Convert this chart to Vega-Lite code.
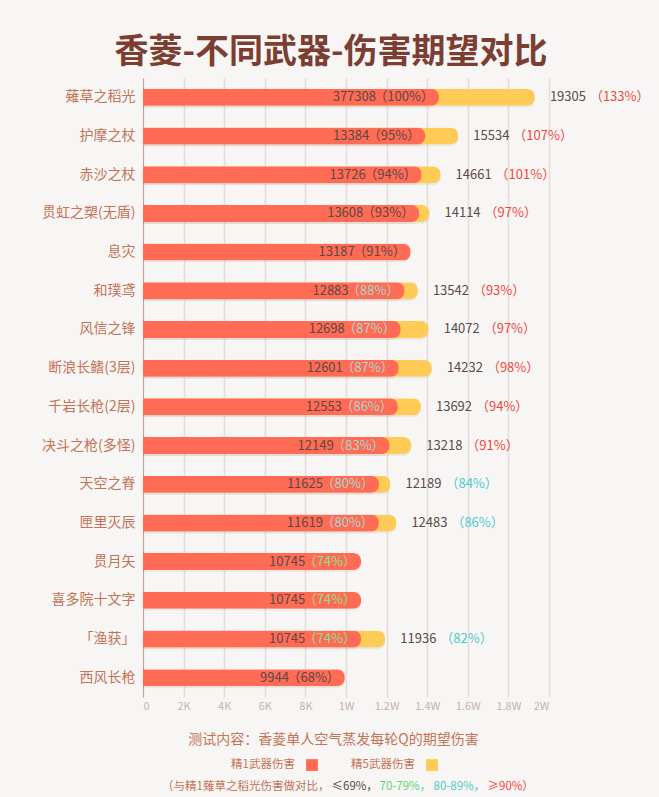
{
  "$schema": "https://vega.github.io/schema/vega-lite/v6.json",
  "autosize": "none",
  "width": 406,
  "height": 619,
  "padding": {"left": 143, "top": 78, "right": 110, "bottom": 100},
  "background": "#f8f6f4",
  "title": {
    "text": "香菱-不同武器-伤害期望对比",
    "font": "Noto Sans CJK SC",
    "fontSize": 34,
    "fontWeight": "bold",
    "color": "#7b3e33",
    "anchor": "middle",
    "frame": "group",
    "baseline": "bottom",
    "offset": -26,
    "dx": -15
  },
  "config": {
    "font": "Noto Sans CJK SC",
    "view": {"stroke": null}
  },
  "data": {
    "values": [
      {"w": "薙草之稻光", "r1": 14580, "n1": "377308", "p1": "（100%）", "c1": "≥90%", "r5": 19305, "n5": "19305", "p5": "（133%）", "c5": "≥90%"},
      {"w": "护摩之杖", "r1": 13900, "n1": "13384", "p1": "（95%）", "c1": "≥90%", "r5": 15534, "n5": "15534", "p5": "（107%）", "c5": "≥90%"},
      {"w": "赤沙之杖", "r1": 13726, "n1": "13726", "p1": "（94%）", "c1": "≥90%", "r5": 14661, "n5": "14661", "p5": "（101%）", "c5": "≥90%"},
      {"w": "贯虹之槊(无盾)", "r1": 13608, "n1": "13608", "p1": "（93%）", "c1": "≥90%", "r5": 14114, "n5": "14114", "p5": "（97%）", "c5": "≥90%"},
      {"w": "息灾", "r1": 13187, "n1": "13187", "p1": "（91%）", "c1": "≥90%", "r5": null, "n5": null, "p5": null, "c5": null},
      {"w": "和璞鸢", "r1": 12883, "n1": "12883", "p1": "（88%）", "c1": "80-89%", "r5": 13542, "n5": "13542", "p5": "（93%）", "c5": "≥90%"},
      {"w": "风信之锋", "r1": 12698, "n1": "12698", "p1": "（87%）", "c1": "80-89%", "r5": 14072, "n5": "14072", "p5": "（97%）", "c5": "≥90%"},
      {"w": "断浪长鳍(3层)", "r1": 12601, "n1": "12601", "p1": "（87%）", "c1": "80-89%", "r5": 14232, "n5": "14232", "p5": "（98%）", "c5": "≥90%"},
      {"w": "千岩长枪(2层)", "r1": 12553, "n1": "12553", "p1": "（86%）", "c1": "80-89%", "r5": 13692, "n5": "13692", "p5": "（94%）", "c5": "≥90%"},
      {"w": "决斗之枪(多怪)", "r1": 12149, "n1": "12149", "p1": "（83%）", "c1": "80-89%", "r5": 13218, "n5": "13218", "p5": "（91%）", "c5": "≥90%"},
      {"w": "天空之脊", "r1": 11625, "n1": "11625", "p1": "（80%）", "c1": "80-89%", "r5": 12189, "n5": "12189", "p5": "（84%）", "c5": "80-89%"},
      {"w": "匣里灭辰", "r1": 11619, "n1": "11619", "p1": "（80%）", "c1": "80-89%", "r5": 12483, "n5": "12483", "p5": "（86%）", "c5": "80-89%"},
      {"w": "贯月矢", "r1": 10745, "n1": "10745", "p1": "（74%）", "c1": "70-79%", "r5": null, "n5": null, "p5": null, "c5": null},
      {"w": "喜多院十文字", "r1": 10745, "n1": "10745", "p1": "（74%）", "c1": "70-79%", "r5": null, "n5": null, "p5": null, "c5": null},
      {"w": "「渔获」", "r1": 10745, "n1": "10745", "p1": "（74%）", "c1": "70-79%", "r5": 11936, "n5": "11936", "p5": "（82%）", "c5": "80-89%"},
      {"w": "西风长枪", "r1": 9944, "n1": "9944", "p1": "（68%）", "c1": "≤69%", "r5": null, "n5": null, "p5": null, "c5": null}
    ]
  },
  "encoding": {
    "y": {
      "field": "w",
      "type": "nominal",
      "sort": null,
      "scale": {
        "domain": ["薙草之稻光", "护摩之杖", "赤沙之杖", "贯虹之槊(无盾)", "息灾", "和璞鸢", "风信之锋", "断浪长鳍(3层)", "千岩长枪(2层)", "决斗之枪(多怪)", "天空之脊", "匣里灭辰", "贯月矢", "喜多院十文字", "「渔获」", "西风长枪"],
        "paddingInner": 0.56,
        "paddingOuter": 0.28
      },
      "axis": {
        "title": null,
        "ticks": false,
        "labelFontSize": 14,
        "labelColor": "#c27358",
        "labelPadding": 8,
        "domainColor": "#c0a49c",
        "domainWidth": 1
      }
    }
  },
  "layer": [
    {
      "mark": {"type": "bar", "cornerRadiusEnd": 8, "color": "#a08078", "opacity": 0.12, "yOffset": 2},
      "encoding": {
        "x": {
          "field": "r5",
          "type": "quantitative",
          "scale": {"domain": [0, 20000], "nice": false},
          "axis": {
            "values": [0, 2000, 4000, 6000, 8000, 10000, 12000, 14000, 16000, 18000, 20000],
            "labelExpr": "datum.value == 0 ? '0' : datum.value < 10000 ? (datum.value / 1000) + 'K' : (datum.value / 10000) + 'W'",
            "labelColor": "#c4b4b0",
            "labelFontSize": 11,
            "labelPadding": 3,
            "ticks": false,
            "domain": false,
            "gridColor": "#e6dcd9",
            "gridWidth": 1.5,
            "title": "测试内容：香菱单人空气蒸发每轮Q的期望伤害",
            "titleFontSize": 14,
            "titleFontWeight": "normal",
            "titleColor": "#c27358",
            "titlePadding": 21,
            "titleX": 190
          }
        }
      }
    },
    {
      "mark": {"type": "bar", "cornerRadiusEnd": 8, "color": "#a08078", "opacity": 0.12, "yOffset": 2},
      "encoding": {"x": {"field": "r1", "type": "quantitative"}}
    },
    {
      "mark": {"type": "bar", "cornerRadiusEnd": 8},
      "encoding": {
        "x": {"field": "r5", "type": "quantitative"},
        "fill": {
          "datum": "精5武器伤害",
          "scale": {"domain": ["精1武器伤害", "精5武器伤害"], "range": ["#ff6b55", "#ffcb57"]},
          "legend": {
            "orient": "none",
            "legendX": 163,
            "legendY": 681,
            "direction": "horizontal",
            "title": null,
            "symbolType": "square",
            "symbolSize": 140,
            "symbolStrokeWidth": 0,
            "symbolOpacity": 1,
            "labelFontSize": 11.5,
            "labelColor": "#c27358",
            "labelAlign": "right",
            "labelOffset": -23,
            "columnPadding": 33
          }
        }
      }
    },
    {
      "mark": {"type": "bar", "cornerRadiusEnd": 8},
      "encoding": {
        "x": {"field": "r1", "type": "quantitative"},
        "fill": {"datum": "精1武器伤害"}
      }
    },
    {
      "transform": [{"filter": "datum.p1 != '（100%）'"}],
      "mark": {"type": "text", "align": "right", "baseline": "middle", "dx": -56, "fontSize": 13, "color": "#5b4a47"},
      "encoding": {"x": {"field": "r1", "type": "quantitative"}, "text": {"field": "n1"}}
    },
    {
      "transform": [{"filter": "datum.p1 == '（100%）'"}],
      "mark": {"type": "text", "align": "right", "baseline": "middle", "dx": -63, "fontSize": 13, "color": "#5b4a47"},
      "encoding": {"x": {"field": "r1", "type": "quantitative"}, "text": {"field": "n1"}}
    },
    {
      "mark": {"type": "text", "align": "right", "baseline": "middle", "dx": -5, "fontSize": 13},
      "encoding": {
        "x": {"field": "r1", "type": "quantitative"},
        "text": {"field": "p1"},
        "color": {
          "condition": [
            {"test": "datum.c1 == '≥90%'", "value": "#5b4a47"},
            {"test": "datum.c1 == '80-89%'", "value": "#a3d8d0"},
            {"test": "datum.c1 == '70-79%'", "value": "#86e094"}
          ],
          "field": "c1",
          "type": "nominal"
        }
      }
    },
    {
      "transform": [{"filter": "datum.r5 != null"}],
      "mark": {"type": "text", "align": "left", "baseline": "middle", "dx": 15, "fontSize": 13, "color": "#5b4a47"},
      "encoding": {"x": {"field": "r5", "type": "quantitative"}, "text": {"field": "n5"}}
    },
    {
      "transform": [{"filter": "datum.r5 != null"}],
      "mark": {"type": "text", "align": "left", "baseline": "middle", "dx": 55, "fontSize": 13},
      "encoding": {
        "x": {"field": "r5", "type": "quantitative"},
        "text": {"field": "p5"},
        "color": {
          "field": "c5",
          "type": "nominal",
          "scale": {"domain": ["≤69%", "70-79%", "80-89%", "≥90%"], "range": ["#5b4a47", "#5fd37a", "#4ccaca", "#f0463c"]},
          "legend": {
            "orient": "none",
            "legendX": 19,
            "legendY": 703,
            "direction": "horizontal",
            "title": "（与精1薙草之稻光伤害做对比，",
            "titleOrient": "left",
            "titleFontSize": 11.5,
            "titleFontWeight": "normal",
            "titleColor": "#c27358",
            "titlePadding": 0,
            "symbolSize": 0,
            "symbolOpacity": 0,
            "labelOffset": -10,
            "columnPadding": 0,
            "labelFontSize": 11.5,
            "labelExpr": "datum.label + (datum.label == '≥90%' ? '）' : '，')",
            "labelColor": {"expr": "datum.label == '≤69%' ? '#5b4a47' : datum.label == '70-79%' ? '#5fd37a' : datum.label == '80-89%' ? '#4ccaca' : '#f0463c'"}
          }
        }
      }
    }
  ]
}
